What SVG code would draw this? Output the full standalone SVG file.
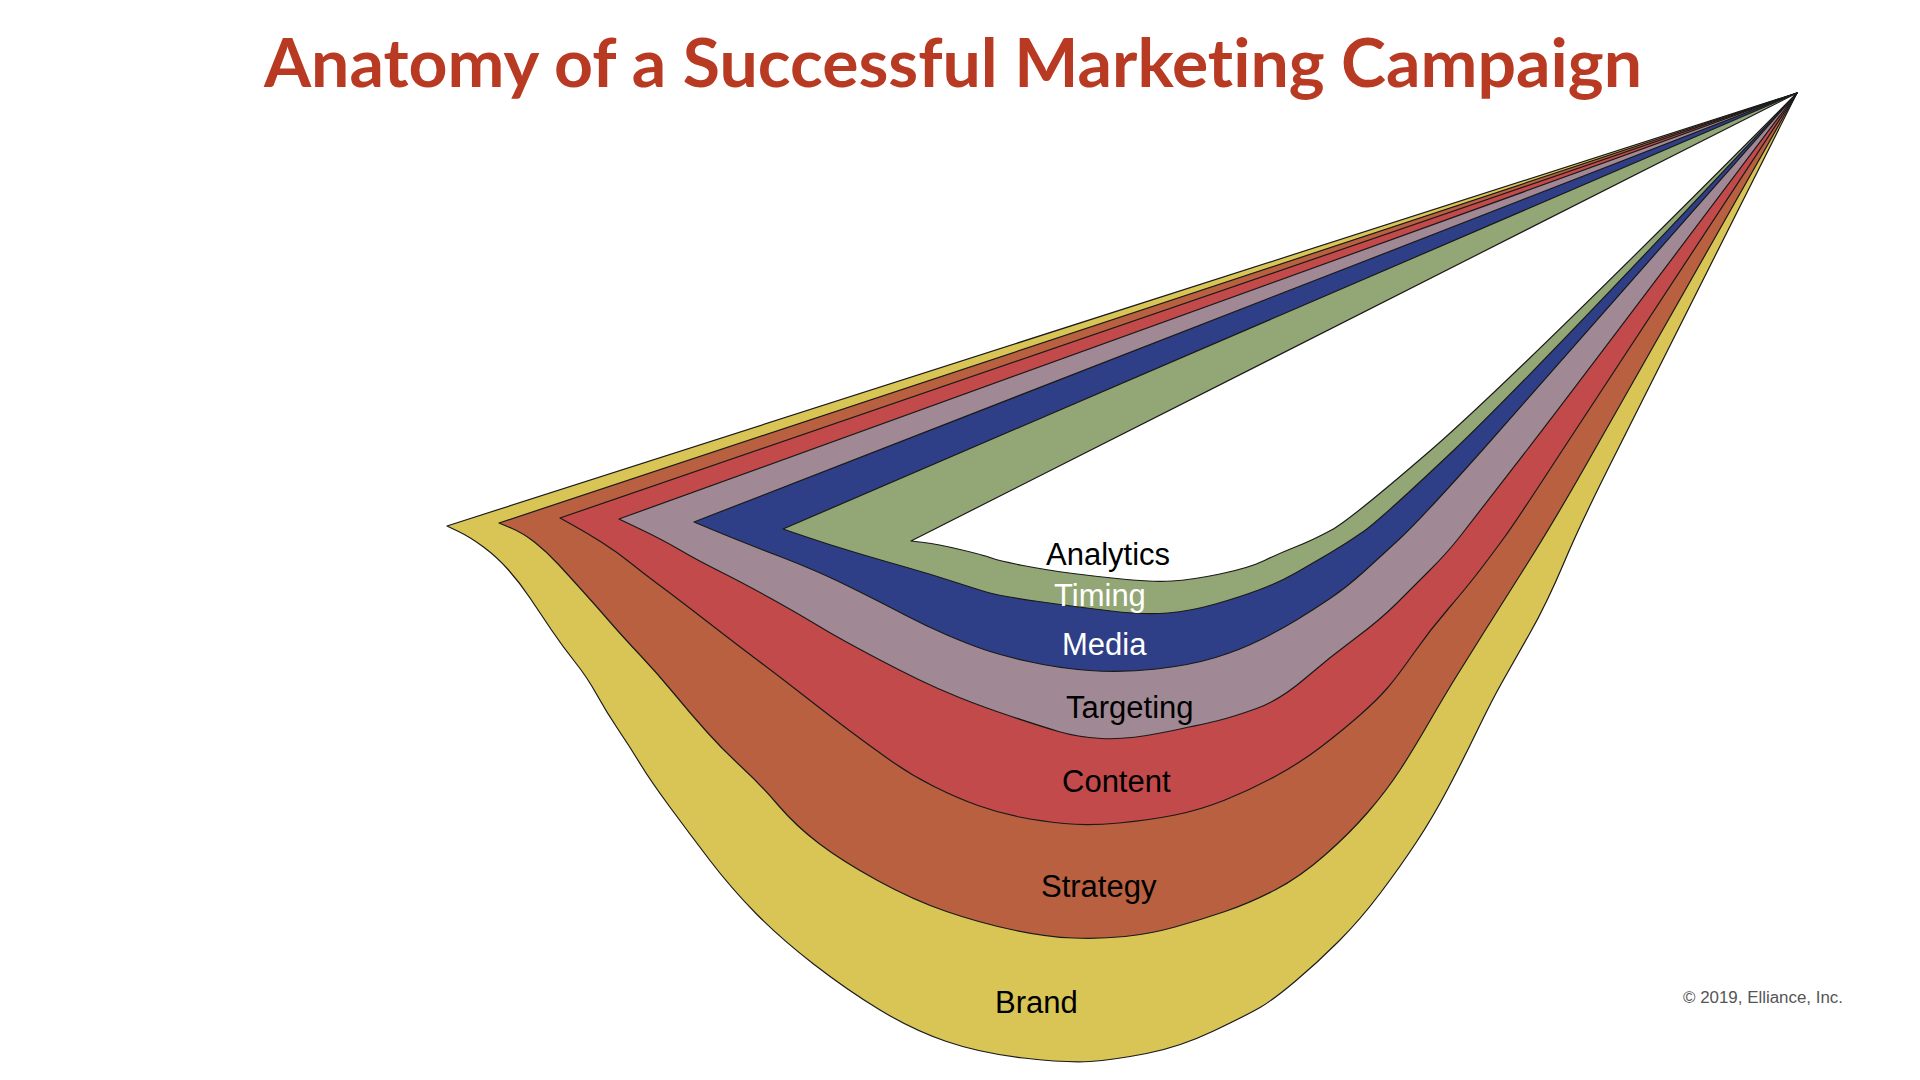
<svg xmlns="http://www.w3.org/2000/svg" width="1920" height="1080" viewBox="0 0 1920 1080">
<style>
.band{stroke:#1a1a1a;stroke-width:1.2;stroke-linejoin:round}
.lbl{font-family:"Liberation Sans",Arial,Helvetica,sans-serif;font-size:31px}
.dark{fill:#000}
.light{fill:#fff}
.title{font-family:Lato,"Open Sans",sans-serif;font-weight:700;font-size:66px;fill:#B93A22;font-variant-ligatures:none}
.copy{font-family:"Liberation Sans",Arial,sans-serif;font-size:16px;fill:#555}
</style>
<rect width="1920" height="1080" fill="#fff"/>
<text class="title" x="264" y="87" textLength="1378" lengthAdjust="spacingAndGlyphs">Anatomy of a Successful Marketing Campaign</text>
<g id="brand">
<path class="band" fill="#D9C556" d="M1797,93 L447,526 L458.5,531.5 Q470,537 483.5,547 Q497,557 508.5,570 Q520,583 530,598 Q540,613 551.5,630 Q563,647 575,662 Q587,677 597,695 Q607,713 618.5,730 Q630,747 640,763.5 Q650,780 669.5,806.5 Q689,833 710,860.5 Q731,888 755.5,913 Q780,938 813.5,964 Q847,990 880,1010 Q913,1030 946.5,1041.5 Q980,1053 1023.5,1058 Q1067,1063 1090,1061.5 Q1113,1060 1146.5,1053.5 Q1180,1047 1213.5,1031 Q1247,1015 1260,1007.5 Q1273,1000 1295,981.5 Q1317,963 1338.5,941.5 Q1360,920 1380,893.5 Q1400,867 1416.5,842 Q1433,817 1448,788.5 Q1463,760 1477.5,730 Q1492,700 1502.5,681.5 Q1513,663 1530,633 Q1547,603 1564.5,561.5 Q1582,520 1617.5,450 Q1653,380 1797,93 Z"/>
<text class="lbl dark" x="995" y="1013">Brand</text>
</g>
<g id="strategy">
<path class="band" fill="#B86040" d="M1797,93 L499,523 L511,528 Q523,533 535,542.5 Q547,552 558.5,564.5 Q570,577 583.5,592 Q597,607 610,622 Q623,637 640,655 Q657,673 673.5,693 Q690,713 706.5,731.5 Q723,750 741.5,767 Q760,784 778,805 Q796,826 819,843.5 Q842,861 877.5,880.5 Q913,900 946.5,911.5 Q980,923 1013.5,930 Q1047,937 1073.5,938 Q1100,939 1125,936.5 Q1150,934 1175,927 Q1200,920 1225,911.5 Q1250,903 1275,890 Q1300,877 1325,855 Q1350,833 1368.5,811.5 Q1387,790 1400,770 Q1413,750 1429.5,721.5 Q1446,693 1458.5,673 Q1471,653 1483.5,633 Q1496,613 1525.5,566.5 Q1555,520 1594.5,450 Q1634,380 1797,93 Z"/>
<text class="lbl dark" x="1041" y="897">Strategy</text>
</g>
<g id="content">
<path class="band" fill="#C34A4A" d="M1797,93 L560,518 L573.5,525.5 Q587,533 602,542.5 Q617,552 630,562.5 Q643,573 656.5,583 Q670,593 685,604.5 Q700,616 720,631.5 Q740,647 760,662 Q780,677 805,696.5 Q830,716 850,731 Q870,746 890.5,760.5 Q911,775 934,786.5 Q957,798 978,805.5 Q999,813 1019.5,817 Q1040,821 1064,823.5 Q1088,826 1119,823 Q1150,820 1175,815 Q1200,810 1225,800 Q1250,790 1275,776.5 Q1300,763 1321.5,746.5 Q1343,730 1360,715 Q1377,700 1387,688.5 Q1397,677 1413.5,653.5 Q1430,630 1448.5,608.5 Q1467,587 1480,570 Q1493,553 1505,536.5 Q1517,520 1562.5,450 Q1608,380 1797,93 Z"/>
<text class="lbl dark" x="1062" y="792">Content</text>
</g>
<g id="targeting">
<path class="band" fill="#A08994" d="M1797,93 L619,519 L641,529.5 Q663,540 680,550 Q697,560 720,571.5 Q743,583 770,598 Q797,613 813.5,623 Q830,633 845.5,641.5 Q861,650 880,660 Q899,670 918.5,679.5 Q938,689 960.5,698 Q983,707 1011.5,716.5 Q1040,726 1058.5,731.5 Q1077,737 1101.5,738.5 Q1126,740 1163,732.5 Q1200,725 1216.5,721 Q1233,717 1256.5,708.5 Q1280,700 1305,678.5 Q1330,657 1355,638.5 Q1380,620 1396.5,603.5 Q1413,587 1430,570 Q1447,553 1460,536.5 Q1473,520 1527,450 Q1581,380 1797,93 Z"/>
<text class="lbl dark" x="1066" y="718">Targeting</text>
</g>
<g id="media">
<path class="band" fill="#2F3F87" d="M1797,93 L694,522 L712,529.5 Q730,537 746.5,543.5 Q763,550 780,556.5 Q797,563 815.5,571 Q834,579 859,591.5 Q884,604 905,615 Q926,626 947,635 Q968,644 984,649.5 Q1000,655 1028.5,661.5 Q1057,668 1089.5,670.5 Q1122,673 1156.5,669 Q1191,665 1215.5,657.5 Q1240,650 1260,640 Q1280,630 1296.5,620 Q1313,610 1330,598.5 Q1347,587 1363.5,572 Q1380,557 1400,538.5 Q1420,520 1482.5,450 Q1545,380 1797,93 Z"/>
<text class="lbl light" x="1062" y="655">Media</text>
</g>
<g id="timing">
<path class="band" fill="#93A676" d="M1797,93 L783,529 L806.5,537 Q830,545 857,553 Q884,561 907,567.5 Q930,574 953,581.5 Q976,589 988,592.5 Q1000,596 1038.5,601.5 Q1077,607 1111,611 Q1145,615 1168,613 Q1191,611 1215.5,604 Q1240,597 1260,589.5 Q1280,582 1296.5,572.5 Q1313,563 1330,553 Q1347,543 1363.5,531.5 Q1380,520 1454,450 Q1528,380 1797,93 Z"/>
</g>
<g id="analytics">
<path class="band" fill="#FFFFFF" d="M1797,93 L911,541 L924,542.5 Q937,544 960,549.5 Q983,555 991.5,558 Q1000,561 1023,565.5 Q1046,570 1073,573.5 Q1100,577 1126.5,579.5 Q1153,582 1172,581 Q1191,580 1220,574 Q1249,568 1264.5,560.5 Q1280,553 1296.5,546.5 Q1313,540 1331.5,530 Q1350,520 1431,450 Q1512,380 1797,93 Z"/>
<text class="lbl dark" x="1046" y="565">Analytics</text>
</g>
<g id="timing-label">
<text class="lbl light" x="1054" y="606">Timing</text>
</g>
<text class="copy" x="1683" y="1003" textLength="160" lengthAdjust="spacingAndGlyphs">© 2019, Elliance, Inc.</text>
</svg>
